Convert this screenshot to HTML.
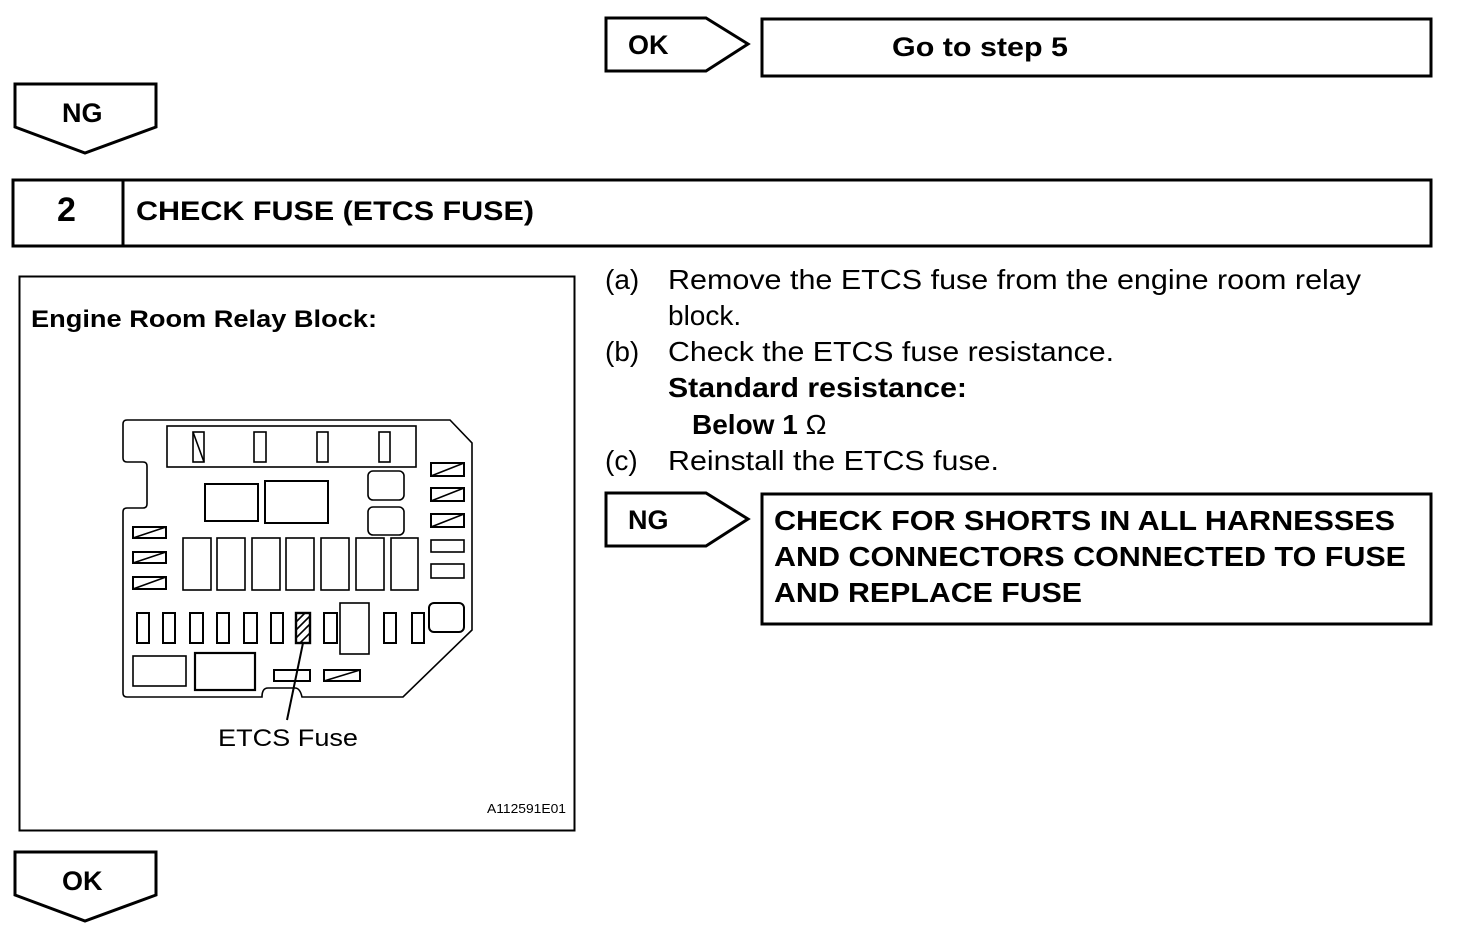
<!DOCTYPE html>
<html><head><meta charset="utf-8"><style>
html,body{margin:0;padding:0;background:#fff}
svg{display:block}
text{font-family:"Liberation Sans",Arial,sans-serif;fill:#000}
.b{font-weight:bold}
</style></head><body>
<svg width="1472" height="946" viewBox="0 0 1472 946" xmlns="http://www.w3.org/2000/svg">
<g fill="none" stroke="#000" stroke-width="3">
<!-- OK top -->
<polygon points="606,18 706,18 748,44 706,71 606,71"/>
<rect x="762" y="19" width="669" height="57"/>
<!-- NG down -->
<polygon points="15,84 156,84 156,127 85,153 15,127"/>
<!-- step bar -->
<rect x="13" y="180" width="1418" height="66"/>
<line x1="123" y1="180" x2="123" y2="246"/>
<!-- NG right -->
<polygon points="606,493 706,493 748,519 706,546 606,546"/>
<rect x="762" y="494" width="669" height="130"/>
<!-- OK bottom -->
<polygon points="15,852 156,852 156,895 85,921 15,895"/>
</g>
<rect x="19.5" y="276.5" width="555" height="554" fill="none" stroke="#000" stroke-width="2"/>

<text x="628" y="54" class="b" font-size="27">OK</text>
<text x="892" y="56" class="b" font-size="27" textLength="176" lengthAdjust="spacingAndGlyphs">Go to step 5</text>
<text x="62" y="122" class="b" font-size="27">NG</text>
<text x="57" y="221" class="b" font-size="34">2</text>
<text x="136" y="220" class="b" font-size="27" textLength="398" lengthAdjust="spacingAndGlyphs">CHECK FUSE (ETCS FUSE)</text>
<text x="628" y="529" class="b" font-size="27">NG</text>
<text x="774" y="530" class="b" font-size="28" textLength="621" lengthAdjust="spacingAndGlyphs">CHECK FOR SHORTS IN ALL HARNESSES</text>
<text x="774" y="566" class="b" font-size="28" textLength="632" lengthAdjust="spacingAndGlyphs">AND CONNECTORS CONNECTED TO FUSE</text>
<text x="774" y="602" class="b" font-size="28" textLength="308" lengthAdjust="spacingAndGlyphs">AND REPLACE FUSE</text>
<text x="62" y="890" class="b" font-size="27">OK</text>

<g font-size="28">
<text x="605" y="289">(a)</text>
<text x="668" y="289" textLength="693" lengthAdjust="spacingAndGlyphs">Remove the ETCS fuse from the engine room relay</text>
<text x="668" y="325">block.</text>
<text x="605" y="361">(b)</text>
<text x="668" y="361" textLength="446" lengthAdjust="spacingAndGlyphs">Check the ETCS fuse resistance.</text>
<text x="668" y="397" class="b" textLength="299" lengthAdjust="spacingAndGlyphs">Standard resistance:</text>
<text x="692" y="434" class="b">Below 1 <tspan font-weight="normal">Ω</tspan></text>
<text x="605" y="470">(c)</text>
<text x="668" y="470" textLength="331" lengthAdjust="spacingAndGlyphs">Reinstall the ETCS fuse.</text>
</g>

<text x="31" y="327" class="b" font-size="24" textLength="346" lengthAdjust="spacingAndGlyphs">Engine Room Relay Block:</text>
<text x="218" y="746" font-size="24" textLength="140" lengthAdjust="spacingAndGlyphs">ETCS Fuse</text>
<text x="487" y="813" font-size="13" textLength="79" lengthAdjust="spacingAndGlyphs">A112591E01</text>

<!-- relay block -->
<g fill="none" stroke="#000" stroke-width="1.6">
<path d="M127,420 L450,420 L472,443 L472,630 L403,697 L302,697 Q300,688 295,688 L268,688 Q262,688 262,697 L127,697 Q123,697 123,693 L123,512 Q123,508 127,508 L143,508 Q147,508 147,504 L147,466 Q147,462 143,462 L127,462 Q123,462 123,458 L123,424 Q123,420 127,420 Z"/>
<rect x="167" y="426" width="249" height="41"/>
<rect x="193" y="432" width="11" height="30"/><line x1="193" y1="432" x2="204" y2="462"/>
<rect x="254" y="432" width="12" height="30"/>
<rect x="317" y="432" width="11" height="30"/>
<rect x="379" y="432" width="11" height="30"/>
<rect x="205" y="484" width="53" height="37" stroke-width="2"/>
<rect x="265" y="481" width="63" height="42" stroke-width="2"/>
<rect x="368" y="471" width="36" height="29" rx="5"/>
<rect x="368" y="507" width="36" height="28" rx="5"/>
<rect x="431" y="463" width="33" height="13" stroke-width="2"/><line x1="431" y1="476" x2="464" y2="463"/>
<rect x="431" y="488" width="33" height="13" stroke-width="2"/><line x1="431" y1="501" x2="464" y2="488"/>
<rect x="431" y="514" width="33" height="13" stroke-width="2"/><line x1="431" y1="527" x2="464" y2="514"/>
<rect x="431" y="540" width="33" height="12"/>
<rect x="431" y="564" width="33" height="14"/>
<rect x="133" y="527" width="33" height="11" stroke-width="2"/><line x1="133" y1="538" x2="166" y2="527"/>
<rect x="133" y="552" width="33" height="11" stroke-width="2"/><line x1="133" y1="563" x2="166" y2="552"/>
<rect x="133" y="577" width="33" height="12" stroke-width="2"/><line x1="133" y1="589" x2="166" y2="577"/>
<rect x="183" y="538" width="28" height="52"/>
<rect x="217" y="538" width="28" height="52"/>
<rect x="252" y="538" width="28" height="52"/>
<rect x="286" y="538" width="28" height="52"/>
<rect x="321" y="538" width="28" height="52"/>
<rect x="356" y="538" width="28" height="52"/>
<rect x="391" y="538" width="27" height="52"/>
<rect x="137" y="613" width="12" height="30" stroke-width="2"/>
<rect x="163" y="613" width="12" height="30" stroke-width="2"/>
<rect x="190" y="613" width="13" height="30" stroke-width="2"/>
<rect x="217" y="613" width="12" height="30" stroke-width="2"/>
<rect x="244" y="613" width="13" height="30" stroke-width="2"/>
<rect x="271" y="613" width="12" height="30" stroke-width="2"/>
<rect x="296" y="613" width="14" height="30" stroke-width="2.4"/>
<line x1="296" y1="622" x2="305" y2="613"/><line x1="296" y1="630" x2="310" y2="616"/><line x1="296" y1="638" x2="310" y2="624"/><line x1="300" y1="643" x2="310" y2="633"/>
<rect x="324" y="613" width="13" height="30" stroke-width="2"/>
<rect x="384" y="613" width="12" height="30" stroke-width="2"/>
<rect x="412" y="613" width="12" height="30" stroke-width="2"/>
<rect x="340" y="603" width="29" height="51"/>
<rect x="429" y="603" width="35" height="29" rx="5" stroke-width="2"/>
<rect x="133" y="656" width="53" height="30"/>
<rect x="195" y="653" width="60" height="37" stroke-width="2.2"/>
<rect x="274" y="670" width="36" height="11" stroke-width="2"/>
<rect x="324" y="670" width="36" height="11" stroke-width="2"/><line x1="324" y1="681" x2="360" y2="670"/>
<line x1="303" y1="643" x2="287" y2="720" stroke-width="2"/>
</g>
</svg>
</body></html>
